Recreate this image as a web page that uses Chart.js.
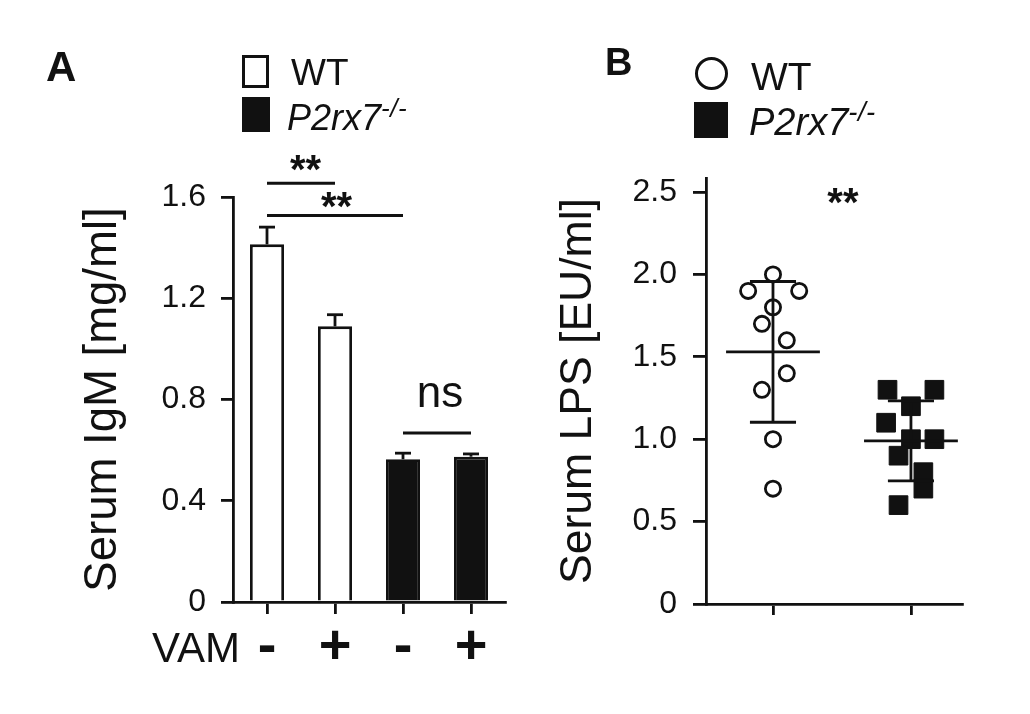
<!DOCTYPE html>
<html>
<head>
<meta charset="utf-8">
<script src="https://cdn.jsdelivr.net/npm/chart.js@4.4.1/dist/chart.umd.min.js"></script>
<style>
  html, body { margin:0; padding:0; background:#fff; }
  body { width:1030px; height:714px; position:relative; overflow:hidden; font-family:"Liberation Sans", Arial, sans-serif; color:#111; }
  canvas { position:absolute; top:0; }
  #cA { left:0; }
  #cB { left:540px; }
  .t { position:absolute; line-height:1; white-space:nowrap; }
  .sup { font-size:0.72em; position:relative; top:-0.5em; letter-spacing:0.02em; }
  .box { position:absolute; box-sizing:border-box; }
</style>
</head>
<body>
<canvas id="cA" width="540" height="714"></canvas>
<canvas id="cB" width="490" height="714"></canvas>

<div class="t" style="left:46px;top:46px;font-size:42px;font-weight:bold;">A</div>
<div class="box" style="left:242px;top:55px;width:27px;height:33px;border:3px solid #111;background:#fff;"></div>
<div class="box" style="left:242px;top:97px;width:28px;height:35px;background:#111;"></div>
<div class="t" style="left:291px;top:54px;font-size:37px;">WT</div>
<div class="t" style="left:287px;top:100px;font-size:36px;font-style:italic;">P2rx7<span class="sup">-/-</span></div>

<div class="t" style="left:605px;top:43px;font-size:38px;font-weight:bold;">B</div>
<div class="box" style="left:695px;top:57px;width:33px;height:33px;border:3.5px solid #111;border-radius:50%;background:#fff;"></div>
<div class="box" style="left:694px;top:102px;width:34px;height:36px;background:#111;"></div>
<div class="t" style="left:751px;top:57px;font-size:39px;">WT</div>
<div class="t" style="left:749px;top:103px;font-size:38px;font-style:italic;">P2rx7<span class="sup">-/-</span></div>

<div class="t" style="left:152px;top:627px;font-size:42px;">VAM</div>

<script>
// ---------- Panel A data ----------
const igmCategories = ['WT VAM-', 'WT VAM+', 'P2rx7-/- VAM-', 'P2rx7-/- VAM+'];
const vamTickLabels = ['-', '+', '-', '+'];
const igmGenotype   = ['WT', 'WT', 'KO', 'KO'];
const igmMean       = [1.413, 1.089, 0.564, 0.574];
const igmSem        = [0.068, 0.046, 0.024, 0.011];
const igmTicks      = [0, 0.4, 0.8, 1.2, 1.6];

// ---------- Panel B data ----------
const lpsGroups   = ['WT', 'P2rx7-/-'];
const lpsWT       = [2.0, 1.9, 1.9, 1.8, 1.7, 1.6, 1.4, 1.3, 1.0, 0.7];
const lpsWTJitter = [0, -0.18, 0.19, 0, -0.08, 0.10, 0.10, -0.08, 0, 0];
const lpsKO       = [1.3, 1.3, 1.2, 1.1, 1.0, 1.0, 0.9, 0.8, 0.7, 0.6];
const lpsKOJitter = [-0.17, 0.17, 0, -0.18, 0, 0.17, -0.09, 0.09, 0.09, -0.09];
const lpsTicks    = [0, 0.5, 1.0, 1.5, 2.0, 2.5];

const INK = '#111';
Chart.defaults.font.family = '"Liberation Sans", Arial, sans-serif';
Chart.defaults.color = INK;

function drawText(ctx, txt, x, y, size, weight) {
  ctx.save();
  ctx.fillStyle = INK;
  ctx.font = (weight || 'normal') + ' ' + size + 'px "Liberation Sans", Arial, sans-serif';
  ctx.textAlign = 'center';
  ctx.textBaseline = 'alphabetic';
  ctx.fillText(txt, x, y);
  ctx.restore();
}
function line(ctx, x1, y1, x2, y2, w) {
  ctx.save();
  ctx.strokeStyle = INK; ctx.lineWidth = w; ctx.lineCap = 'butt';
  ctx.beginPath(); ctx.moveTo(x1, y1); ctx.lineTo(x2, y2); ctx.stroke();
  ctx.restore();
}

// ---------- Panel A ----------
const annotA = {
  id: 'annotA',
  afterDatasetsDraw(chart) {
    const ctx = chart.ctx, xs = chart.scales.x, ys = chart.scales.y;
    const meta = chart.getDatasetMeta(0);
    // error bars (upper SEM)
    igmMean.forEach((m, i) => {
      const x = meta.data[i].x;
      const yTop = ys.getPixelForValue(m + igmSem[i]);
      const yM = ys.getPixelForValue(m);
      line(ctx, x, yM, x, yTop, 2.8);
      line(ctx, x - 8, yTop, x + 8, yTop, 2.8);
    });
    // significance brackets
    const sig = [
      { a: 0, b: 1, v: 1.654, txt: '**', dx: 4.5, ty: 1.654 },
      { a: 0, b: 2, v: 1.527, txt: '**', dx: 1.5, ty: 1.510 },
      { a: 2, b: 3, v: 0.668, txt: 'ns', dx: 3, ty: 0.77 }
    ];
    sig.forEach(s => {
      const x1 = xs.getPixelForValue(s.a), x2 = xs.getPixelForValue(s.b);
      const y = ys.getPixelForValue(s.v);
      line(ctx, x1, y, x2, y, 3);
      const mid = (x1 + x2) / 2 + s.dx;
      if (s.txt === 'ns') {
        drawText(ctx, 'ns', mid, ys.getPixelForValue(s.ty), 44, 'normal');
      } else {
        drawText(ctx, '**', mid, ys.getPixelForValue(s.ty), 40, 'bold');
      }
    });
  }
};

new Chart(document.getElementById('cA'), {
  type: 'bar',
  data: {
    labels: igmCategories,
    datasets: [{
      data: igmMean,
      backgroundColor: igmGenotype.map(g => g === 'WT' ? '#fff' : INK),
      borderColor: INK,
      borderWidth: 2.8,
      barPercentage: 1,
      categoryPercentage: 0.5
    }]
  },
  options: {
    responsive: false, animation: false, events: [],
    layout: { padding: { left: 76, top: 197, right: 35, bottom: 0 } },
    plugins: { legend: { display: false }, tooltip: { enabled: false } },
    scales: {
      x: {
        grid: { offset: false, drawOnChartArea: false, tickLength: 12, color: INK, lineWidth: 2.8 },
        border: { color: INK, width: 2.8 },
        ticks: {
          padding: 0, maxRotation: 0, autoSkip: false,
          font: { size: 56, weight: 'bold' },
          callback: (v, i) => vamTickLabels[i]
        },
        afterFit(s) { s.height = 112; }
      },
      y: {
        min: 0, max: 1.6,
        afterBuildTicks(s) { s.ticks = igmTicks.map(v => ({ value: v })); },
        grid: { drawOnChartArea: false, tickLength: 12, color: INK, lineWidth: 2.8 },
        border: { color: INK, width: 2.8 },
        ticks: {
          padding: 15, font: { size: 32 },
          callback: v => v === 0 ? '0' : v.toFixed(1)
        },
        title: { display: true, text: 'Serum IgM [mg/ml]', font: { size: 45.5 }, padding: 0, color: INK },
        afterFit(s) { s.width = 157; }
      }
    }
  },
  plugins: [annotA]
});

// ---------- Panel B ----------
function meanSd(arr) {
  const m = arr.reduce((a, b) => a + b, 0) / arr.length;
  const sd = Math.sqrt(arr.reduce((a, b) => a + (b - m) * (b - m), 0) / (arr.length - 1));
  return [m, sd];
}
const annotB = {
  id: 'annotB',
  afterDatasetsDraw(chart) {
    const ctx = chart.ctx, xs = chart.scales.x, ys = chart.scales.y;
    [[lpsWT, 1], [lpsKO, 2]].forEach(([arr, gx]) => {
      const [m, sd] = meanSd(arr);
      const xc = xs.getPixelForValue(gx);
      const xl = xs.getPixelForValue(gx - 0.34), xr = xs.getPixelForValue(gx + 0.34);
      const cl = xs.getPixelForValue(gx - 0.167), cr = xs.getPixelForValue(gx + 0.167);
      const ym = ys.getPixelForValue(m), yt = ys.getPixelForValue(m + sd), yb = ys.getPixelForValue(m - sd);
      line(ctx, xc, yt, xc, yb, 2.8);
      line(ctx, xl, ym, xr, ym, 2.8);
      line(ctx, cl, yt, cr, yt, 2.8);
      line(ctx, cl, yb, cr, yb, 2.8);
    });
    drawText(ctx, '**', xs.getPixelForValue(1.507), ys.getPixelForValue(2.47) + 19, 40, 'bold');
  }
};

new Chart(document.getElementById('cB'), {
  type: 'scatter',
  data: {
    datasets: [
      {
        label: lpsGroups[0],
        data: lpsWT.map((v, i) => ({ x: 1 + lpsWTJitter[i], y: v })),
        pointStyle: 'circle', pointRadius: 7.6, pointBorderWidth: 2.8,
        pointBackgroundColor: '#fff', pointBorderColor: INK
      },
      {
        label: lpsGroups[1],
        data: lpsKO.map((v, i) => ({ x: 2 + lpsKOJitter[i], y: v })),
        pointStyle: 'rect', pointRadius: 13.2, pointBorderWidth: 1,
        pointBackgroundColor: INK, pointBorderColor: INK
      }
    ]
  },
  options: {
    responsive: false, animation: false, events: [],
    layout: { padding: { left: 12, top: 178, right: 68, bottom: 0 } },
    plugins: { legend: { display: false }, tooltip: { enabled: false } },
    scales: {
      x: {
        type: 'linear', min: 0.5145, max: 2.37,
        afterBuildTicks(s) { s.ticks = [{ value: 1 }, { value: 2 }]; },
        grid: { drawOnChartArea: false, tickLength: 11, color: INK, lineWidth: 2.8 },
        border: { color: INK, width: 2.8 },
        ticks: { callback: () => '', padding: 0 },
        afterFit(s) { s.height = 110; }
      },
      y: {
        min: 0, max: 2.585,
        afterBuildTicks(s) { s.ticks = lpsTicks.map(v => ({ value: v })); },
        grid: { drawOnChartArea: false, tickLength: 13, color: INK, lineWidth: 2.8 },
        border: { color: INK, width: 2.8 },
        ticks: { padding: 16, font: { size: 32 }, callback: v => v === 0 ? '0' : v.toFixed(1) },
        title: { display: true, text: 'Serum LPS [EU/ml]', font: { size: 44.5 }, padding: 0, color: INK },
        afterFit(s) { s.width = 154; }
      }
    }
  },
  plugins: [annotB]
});
</script>
</body>
</html>
